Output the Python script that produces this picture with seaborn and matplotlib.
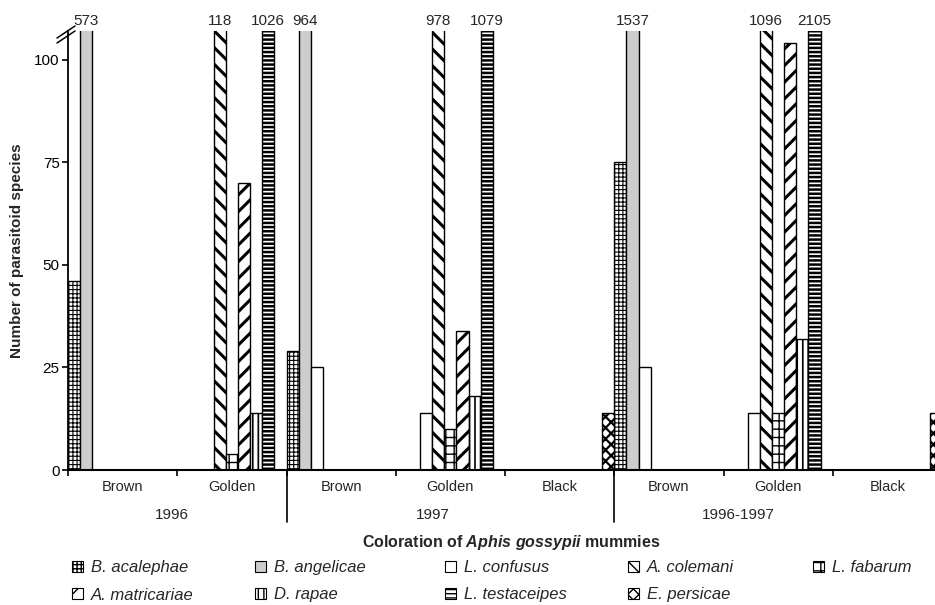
import numpy as np
import pandas as pd
import matplotlib
matplotlib.use("Agg")
import matplotlib.pyplot as plt
import matplotlib.transforms as mtransforms
from matplotlib.patches import Patch
import seaborn as sns

# ---------------- data ----------------
colorations = ["Brown", "Golden", "Brown", "Golden", "Black", "Brown", "Golden", "Black"]
periods = ["1996", "1996", "1997", "1997", "1997", "1996-1997", "1996-1997", "1996-1997"]
period_names = ["1996", "1997", "1996-1997"]
species = ["B. acalephae", "B. angelicae", "L. confusus", "A. colemani", "L. fabarum",
           "A. matricariae", "D. rapae", "L. testaceipes", "E. persicae"]

b_acalephae = [46, 0, 29, 0, 0, 75, 0, 0]
b_angelicae = [573, 0, 964, 0, 0, 1537, 0, 0]
l_confusus = [0, 0, 25, 14, 0, 25, 14, 0]
a_colemani = [0, 118, 0, 978, 0, 0, 1096, 0]
l_fabarum = [0, 4, 0, 10, 0, 0, 14, 0]
a_matricariae = [0, 70, 0, 34, 0, 0, 104, 0]
d_rapae = [0, 14, 0, 18, 0, 0, 32, 0]
l_testaceipes = [0, 1026, 0, 1079, 0, 0, 2105, 0]
e_persicae = [0, 0, 0, 0, 14, 0, 0, 14]

y_ticks = [0, 25, 50, 75, 100]
y_top = 107

series = [b_acalephae, b_angelicae, l_confusus, a_colemani, l_fabarum,
          a_matricariae, d_rapae, l_testaceipes, e_persicae]
group_keys = [f"{p} {c}" for p, c in zip(periods, colorations)]
rows = []
for sp, vals in zip(species, series):
    for g, v in zip(group_keys, vals):
        rows.append({"group": g, "species": sp, "value": v})
df = pd.DataFrame(rows)

# ---------------- styles ----------------
face = {sp: "white" for sp in species}
face["B. angelicae"] = "#cdcdcd"
hatch = {
    "B. acalephae": "++++",
    "B. angelicae": "",
    "L. confusus": "",
    "A. colemani": "\\\\",
    "L. fabarum": "++",
    "A. matricariae": "//",
    "D. rapae": "|||",
    "L. testaceipes": "----",
    "E. persicae": "xxx",
}
hatch_lw = {
    "B. acalephae": 0.8, "B. angelicae": 0.8, "L. confusus": 0.8,
    "A. colemani": 2.2, "L. fabarum": 1.0, "A. matricariae": 2.2,
    "D. rapae": 1.2, "L. testaceipes": 1.8, "E. persicae": 1.6,
}

sns.set_style("ticks")
plt.rcParams["font.family"] = ["Liberation Sans", "DejaVu Sans"]
plt.rcParams["hatch.linewidth"] = 1.0
plt.rcParams["mathtext.fontset"] = "custom"
plt.rcParams["mathtext.it"] = "Liberation Sans:italic:bold"
plt.rcParams["mathtext.rm"] = "Liberation Sans:bold"

W, H = 935, 605
fig = plt.figure(figsize=(W / 100, H / 100), dpi=100)
ax = fig.add_axes([68 / W, 1 - 470 / H, 874 / W, 439 / H])

sns.barplot(data=df, x="group", y="value", hue="species", order=group_keys,
            hue_order=species, palette=face, width=1.0, gap=0, saturation=1,
            edgecolor="black", linewidth=1.0, legend=False, ax=ax, errorbar=None)

for sp, cont in zip(species, ax.containers):
    for bar in cont:
        bar.set_hatch(hatch[sp])
        bar.set_edgecolor("black")
        if hasattr(bar, "set_hatch_linewidth"):
            bar.set_hatch_linewidth(hatch_lw[sp])

ax.set_ylim(0, y_top)
ax.set_xlim(-0.5, len(group_keys) - 0.5)

# value labels for truncated bars
for sp, cont, vals in zip(species, ax.containers, series):
    for bar, v in zip(cont, vals):
        if v > y_top:
            xc = bar.get_x() + bar.get_width() / 2
            ax.annotate(str(v), xy=(xc, y_top), xytext=(0, 2), textcoords="offset points",
                        ha="center", va="bottom", fontsize=11, annotation_clip=False)

# axes styling
for s in ["top", "right"]:
    ax.spines[s].set_visible(False)
ax.spines["left"].set_linewidth(1.3)
ax.spines["bottom"].set_linewidth(1.5)
ax.spines["left"].set_color("black")
ax.spines["bottom"].set_color("black")
ax.set_yticks(y_ticks)
ax.set_yticklabels([str(t) for t in y_ticks], fontsize=11)
ax.tick_params(axis="y", direction="out", length=4, width=1.2, pad=2, colors="black")

ax.set_xticks(np.arange(len(group_keys) + 1) - 0.5)
ax.set_xticklabels([])
ax.tick_params(axis="x", direction="out", length=4, width=1.2, colors="black")
ax.set_xlabel("")
ax.set_ylabel("Number of parasitoid species", fontsize=11, fontweight="bold", labelpad=7)

trans = mtransforms.blended_transform_factory(ax.transData, ax.transAxes)
axh = 439.0
for i, c in enumerate(colorations):
    ax.text(i, -17 / axh, c, transform=trans, ha="center", va="center", fontsize=10.5)
period_pos = [0.45, 2.84, 5.64]
for p, xp in zip(period_names, period_pos):
    ax.text(xp, -45 / axh, p, transform=trans, ha="center", va="center", fontsize=11)
for xb in [1.5, 4.5]:
    ax.plot([xb, xb], [0, -52 / axh], transform=trans, color="black", lw=1.2, clip_on=False)

# axis break marks
aw = 874.0
for dy in [0, 5]:
    ax.plot([-11 / aw, 7 / aw], [(-12 + dy) / axh + 1, (0 + dy) / axh + 1],
            transform=ax.transAxes, color="black", lw=1.1, clip_on=False)

fig.text(511 / W, 1 - 542 / H, r"Coloration of $\mathit{Aphis\ gossypii}$ mummies",
         ha="center", va="center", fontsize=11.5, fontweight="bold")

# legend (one block per column)
cols = [(72, ["B. acalephae", "A. matricariae"]), (255, ["B. angelicae", "D. rapae"]),
        (445, ["L. confusus", "L. testaceipes"]), (628, ["A. colemani", "E. persicae"]),
        (813, ["L. fabarum"])]
for xpx, labs in cols:
    handles = []
    for sp in labs:
        h = Patch(facecolor=face[sp], edgecolor="black", hatch=hatch[sp], linewidth=0.8)
        if hasattr(h, "set_hatch_linewidth"):
            h.set_hatch_linewidth(min(hatch_lw[sp], 1.0))
        handles.append(h)
    leg = fig.legend(handles, labs, loc="upper left", bbox_to_anchor=(xpx / W, 1 - 560 / H),
                     frameon=False, borderpad=0, borderaxespad=0, handlelength=0.65,
                     handleheight=0.65, handletextpad=0.5, labelspacing=0.75,
                     prop={"style": "italic", "size": 12})

fig.savefig("out.png", dpi=100)
